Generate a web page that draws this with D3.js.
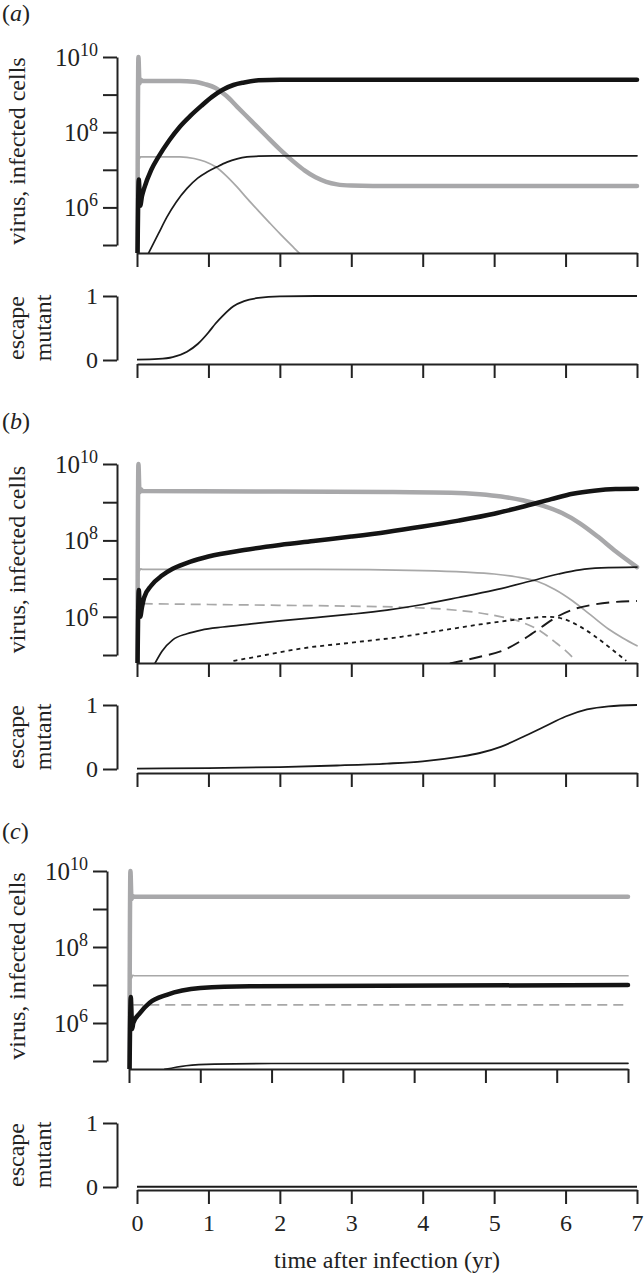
<!DOCTYPE html>
<html>
<head>
<meta charset="utf-8">
<script src="https://cdn.jsdelivr.net/npm/d3@7"></script>
<style>
body { margin: 0; background: #fff; }
svg { display: block; font-family: "Liberation Serif", "Times New Roman", Times, serif; }
</style>
</head>
<body>
<div id="graph"></div>
<script>
// x ticks (years) and log ticks
let years = [0, 1, 2, 3, 4, 5, 6, 7];
let logTicks = [1e5, 1e6, 1e7, 1e8, 1e9, 1e10];
let labelledExp = [6, 8, 10];
let escTicks = [0, 1];

// panel (a): [time (yr), value]
let aThickGray = [[0.004, 1e4], [0.02, 1e10], [0.035, 2e9], [0.05, 2.5e9], [0.08, 2.3e9], [0.6, 2.3e9], [0.8, 2.2e9], [0.95, 1.9e9], [1.1, 1.5e9], [1.25, 9.3e8], [1.4, 4.8e8], [1.6, 2e8], [1.8, 8.3e7], [2.0, 3.5e7], [2.2, 1.6e7], [2.35, 9.5e6], [2.5, 6.3e6], [2.65, 4.8e6], [2.8, 4.1e6], [3.0, 3.8e6], [3.3, 3.7e6], [7, 3.7e6]];
let aThinGray = [[0.004, 1e4], [0.02, 2.6e7], [0.035, 2e7], [0.05, 2.2e7], [0.6, 2.2e7], [0.8, 2e7], [0.95, 1.66e7], [1.1, 1.2e7], [1.25, 6.9e6], [1.4, 3.5e6], [1.55, 1.66e6], [1.7, 8.1e5], [1.85, 4e5], [2.0, 2e5], [2.2, 8.3e4], [2.4, 3.5e4]];
let aThickBlack = [[0.004, 1e4], [0.025, 5.5e6], [0.045, 1.1e6], [0.07, 2e6], [0.1, 3.2e6], [0.2, 1e7], [0.3, 2.2e7], [0.45, 6e7], [0.6, 1.4e8], [0.75, 2.75e8], [0.9, 5e8], [1.05, 8.7e8], [1.2, 1.35e9], [1.35, 1.8e9], [1.5, 2.1e9], [1.7, 2.4e9], [2.0, 2.5e9], [7, 2.5e9]];
let aThinBlack = [[0.16, 6e4], [0.3, 2e5], [0.42, 5.6e5], [0.55, 1.4e6], [0.7, 3.2e6], [0.85, 6e6], [0.98, 8.7e6], [1.12, 1.2e7], [1.26, 1.6e7], [1.4, 1.95e7], [1.54, 2.2e7], [1.7, 2.3e7], [1.9, 2.35e7], [7, 2.35e7]];
let aEscape = [[0, 0.005], [0.3, 0.016], [0.5, 0.046], [0.7, 0.13], [0.85, 0.25], [1.0, 0.43], [1.1, 0.57], [1.2, 0.69], [1.35, 0.84], [1.5, 0.92], [1.7, 0.97], [2.0, 0.995], [2.5, 1.0], [7, 1.0]];

// panel (b)
let bThickGray = [[0.004, 1e4], [0.02, 1e10], [0.035, 1.8e9], [0.05, 2.2e9], [0.08, 1.95e9], [2, 1.9e9], [3.5, 1.86e9], [4.4, 1.78e9], [4.8, 1.62e9], [5.1, 1.41e9], [5.4, 1.12e9], [5.7, 7.9e8], [5.95, 5.2e8], [6.2, 2.8e8], [6.45, 1.26e8], [6.7, 5.2e7], [7, 2e7]];
let bThinGray = [[0.004, 1e4], [0.02, 2.4e7], [0.035, 1.6e7], [0.05, 1.8e7], [0.08, 1.74e7], [2.5, 1.74e7], [4.0, 1.62e7], [4.6, 1.48e7], [5.0, 1.32e7], [5.3, 1.12e7], [5.6, 8.5e6], [5.85, 5.2e6], [6.1, 2.6e6], [6.35, 1.12e6], [6.6, 4.8e5], [6.8, 2.8e5], [7, 1.74e5]];
let bGrayDash = [[0.08, 2.2e6], [1, 2.1e6], [2, 2e6], [3, 1.9e6], [3.7, 1.78e6], [4.3, 1.58e6], [4.8, 1.26e6], [5.1, 1e6], [5.4, 7.1e5], [5.65, 4.2e5], [5.85, 2.2e5], [6.0, 1.3e5], [6.15, 7e4]];
let bThickBlack = [[0.004, 1e4], [0.025, 5e6], [0.045, 1e6], [0.07, 1.8e6], [0.1, 3.2e6], [0.2, 6.6e6], [0.35, 1.2e7], [0.5, 1.8e7], [0.75, 2.8e7], [1.0, 3.8e7], [1.5, 5.6e7], [2.0, 7.6e7], [2.5, 9.8e7], [3.0, 1.26e8], [3.5, 1.66e8], [4.0, 2.3e8], [4.5, 3.3e8], [5.0, 5e8], [5.4, 7.6e8], [5.8, 1.2e9], [6.1, 1.66e9], [6.4, 2e9], [6.7, 2.2e9], [7, 2.24e9]];
let bThinBlack = [[0.25, 6e4], [0.35, 1.26e5], [0.5, 2.5e5], [0.7, 3.6e5], [0.9, 4.5e5], [1.2, 5.4e5], [1.6, 6.5e5], [2.0, 7.8e5], [2.5, 9.5e5], [3.0, 1.17e6], [3.5, 1.5e6], [4.0, 2.1e6], [4.5, 3.2e6], [5.0, 5e6], [5.5, 8.5e6], [5.9, 1.32e7], [6.2, 1.7e7], [6.5, 1.9e7], [7, 2e7]];
let bBlackDot = [[1.35, 7e4], [1.8, 1e5], [2.3, 1.48e5], [3.0, 2.1e5], [3.7, 3e5], [4.3, 4.5e5], [4.8, 6.3e5], [5.2, 8e5], [5.5, 9.3e5], [5.75, 1e6], [5.95, 9e5], [6.15, 6.3e5], [6.4, 3.2e5], [6.65, 1.4e5], [6.85, 7e4]];
let bBlackDash = [[4.38, 6e4], [4.8, 9e4], [5.1, 1.26e5], [5.4, 2.5e5], [5.65, 5.2e5], [5.9, 1.05e6], [6.15, 1.66e6], [6.4, 2.1e6], [6.7, 2.45e6], [7, 2.6e6]];
let bEscape = [[0, 0.005], [1, 0.015], [2, 0.03], [2.8, 0.055], [3.5, 0.085], [4.0, 0.12], [4.5, 0.19], [4.8, 0.25], [5.1, 0.35], [5.4, 0.5], [5.7, 0.66], [6.0, 0.82], [6.3, 0.93], [6.6, 0.98], [7, 1.0]];

// panel (c)
let cThickGray = [[0.004, 1e4], [0.02, 1e10], [0.035, 1.8e9], [0.05, 2.2e9], [0.08, 2.1e9], [7, 2.1e9]];
let cThinGray = [[0.004, 1e4], [0.02, 2.2e7], [0.035, 1.5e7], [0.05, 1.8e7], [0.08, 1.75e7], [7, 1.75e7]];
let cGrayDash = [[0.06, 3e6], [7, 3e6]];
let cThickBlack = [[0.004, 1e4], [0.025, 4.8e6], [0.045, 7e5], [0.06, 1e6], [0.15, 1.8e6], [0.29, 3.4e6], [0.53, 5.5e6], [1.0, 8.3e6], [1.7, 9.3e6], [7, 1e7]];
let cThinBlack = [[0.5, 6e4], [0.8, 7.5e4], [1.2, 8.3e4], [2, 8.6e4], [7, 8.7e4]];
let cEscape = [[0, 0.004], [7, 0.004]];

let styles = {
    thickGray: { stroke: "#a8a8aa", width: 4.5, dash: null },
    thinGray: { stroke: "#a8a8a8", width: 1.7, dash: null },
    grayDash: { stroke: "#a8a8a8", width: 1.7, dash: "10,6" },
    thickBlack: { stroke: "#141414", width: 4.5, dash: null },
    thinBlack: { stroke: "#1a1a1a", width: 1.7, dash: null },
    blackDot: { stroke: "#1a1a1a", width: 1.8, dash: "4,4" },
    blackDash: { stroke: "#1a1a1a", width: 1.9, dash: "13,7" }
};

let panels = [
    { name: "a", labelY: 21, top: 57, bot: 245, axisY: 253, x0: 137, x1: 637, spineX: 117,
      esc: { y1: 296, y0: 360, axisY: 364, data: aEscape },
      lines: [[aThickGray, "thickGray"], [aThinGray, "thinGray"], [aThinBlack, "thinBlack"], [aThickBlack, "thickBlack"]] },
    { name: "b", labelY: 429, top: 464, bot: 655, axisY: 663, x0: 137, x1: 637, spineX: 117,
      esc: { y1: 705, y0: 769, axisY: 773, data: bEscape },
      lines: [[bThickGray, "thickGray"], [bThinGray, "thinGray"], [bGrayDash, "grayDash"], [bThinBlack, "thinBlack"], [bBlackDot, "blackDot"], [bBlackDash, "blackDash"], [bThickBlack, "thickBlack"]] },
    { name: "c", labelY: 839, top: 871, bot: 1061, axisY: 1069, x0: 129, x1: 628, spineX: 107,
      esc: { y1: 1123, y0: 1187, axisY: 1190, data: cEscape },
      lines: [[cThickGray, "thickGray"], [cThinGray, "thinGray"], [cGrayDash, "grayDash"], [cThinBlack, "thinBlack"], [cThickBlack, "thickBlack"]] }
];

let svg = d3.select("#graph").append("svg").attr("width", 644).attr("height", 1275);
let axisColor = "#222";
let fs = 24;

let styleAxis = function(g) {
    g.attr("font-family", null).attr("font-size", null);
    g.select(".domain").attr("stroke", axisColor).attr("stroke-width", 2);
    g.selectAll(".tick line").attr("stroke", axisColor).attr("stroke-width", 2);
    g.selectAll(".tick text").attr("fill", "#222").style("font-size", fs + "px");
};

let drawPanel = function(p, i) {
    let x = d3.scaleLinear().domain([0, 7]).range([p.x0, p.x1]);
    let y = d3.scaleLog().domain([1e5, 1e10]).range([p.bot, p.top]);

    // panel letter
    let lab = svg.append("text").attr("x", 2).attr("y", p.labelY).style("font-size", fs + "px").attr("fill", "#222");
    lab.append("tspan").text("(");
    lab.append("tspan").attr("font-style", "italic").text(p.name);
    lab.append("tspan").text(")");

    // clip to plot region
    svg.append("clipPath").attr("id", "clip" + i).append("rect")
        .attr("x", p.spineX).attr("y", p.top - 20).attr("width", p.x1 - p.spineX + 10).attr("height", p.axisY - p.top + 20);

    let line = d3.line().x(function(d) { return x(d[0]); }).y(function(d) { return y(d[1]); }).curve(d3.curveMonotoneX);
    let g = svg.append("g").attr("clip-path", "url(#clip" + i + ")");
    p.lines.forEach(function(l) {
        let st = styles[l[1]];
        g.append("path").datum(l[0])
            .attr("d", line)
            .attr("fill", "none")
            .attr("stroke", st.stroke)
            .attr("stroke-width", st.width)
            .attr("stroke-dasharray", st.dash)
            .attr("stroke-linejoin", "round")
            .attr("stroke-linecap", st.dash ? "butt" : "round");
    });

    // axes
    svg.append("g").attr("transform", "translate(0," + p.axisY + ")")
        .call(d3.axisBottom(x).tickValues(years).tickSize(14).tickSizeOuter(0).tickFormat(""))
        .call(styleAxis);
    svg.append("g").attr("transform", "translate(" + p.spineX + ",0)")
        .call(d3.axisLeft(y).tickValues(logTicks).tickSize(14).tickSizeOuter(0).tickFormat(""))
        .call(styleAxis);
    labelledExp.forEach(function(e) {
        let t = svg.append("text").attr("x", p.spineX - 19).attr("y", y(Math.pow(10, e)) + 9)
            .attr("text-anchor", "end").attr("fill", "#222").style("font-size", "25px");
        t.append("tspan").text("10");
        t.append("tspan").attr("dy", -10).style("font-size", "18px").text(e);
    });
    svg.append("text").attr("transform", "translate(25," + ((p.top + p.bot) / 2) + ") rotate(-90)")
        .attr("text-anchor", "middle").attr("fill", "#222").style("font-size", fs + "px")
        .text("virus, infected cells");

    // escape mutant panel
    let xe = d3.scaleLinear().domain([0, 7]).range([137, 637]);
    let ye = d3.scaleLinear().domain([0, 1]).range([p.esc.y0, p.esc.y1]);
    let eline = d3.line().x(function(d) { return xe(d[0]); }).y(function(d) { return ye(d[1]); }).curve(d3.curveMonotoneX);
    svg.append("path").datum(p.esc.data).attr("d", eline)
        .attr("fill", "none").attr("stroke", "#1a1a1a").attr("stroke-width", 1.8);
    let xAx = d3.axisBottom(xe).tickValues(years).tickSize(14).tickSizeOuter(0).tickPadding(10);
    if (i < 2) { xAx.tickFormat(""); } else { xAx.tickFormat(d3.format("d")); }
    svg.append("g").attr("transform", "translate(0," + p.esc.axisY + ")").call(xAx).call(styleAxis);
    svg.append("g").attr("transform", "translate(117,0)")
        .call(d3.axisLeft(ye).tickValues(escTicks).tickSize(14).tickSizeOuter(0).tickPadding(5).tickFormat(d3.format("d")))
        .call(styleAxis);
    let ec = (p.esc.y0 + p.esc.y1) / 2;
    svg.append("text").attr("transform", "translate(24," + ec + ") rotate(-90)")
        .attr("text-anchor", "middle").attr("fill", "#222").style("font-size", fs + "px").text("escape");
    svg.append("text").attr("transform", "translate(51," + ec + ") rotate(-90)")
        .attr("text-anchor", "middle").attr("fill", "#222").style("font-size", fs + "px").text("mutant");
};

panels.forEach(drawPanel);

svg.append("text").attr("x", 387).attr("y", 1268).attr("text-anchor", "middle")
    .attr("fill", "#222").style("font-size", fs + "px").text("time after infection (yr)");
</script>
</body>
</html>
